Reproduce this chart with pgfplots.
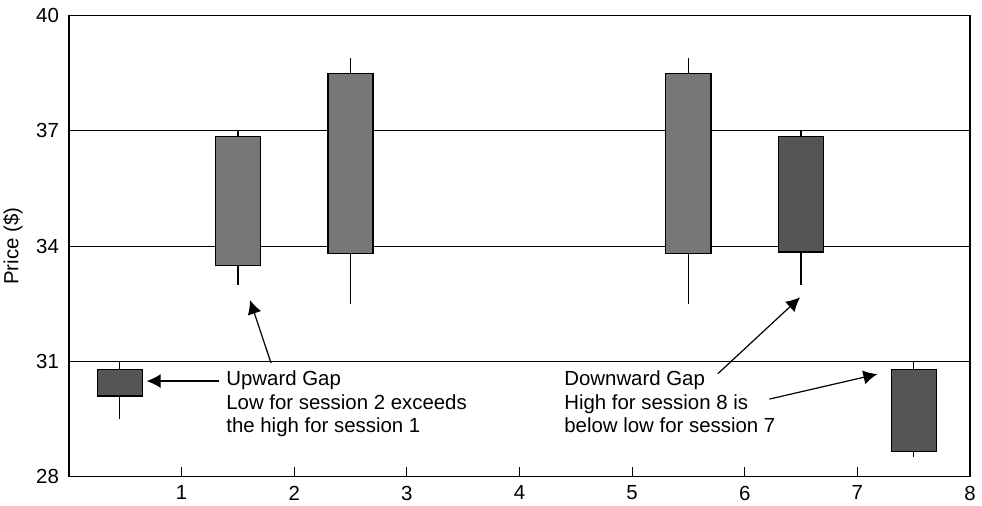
\documentclass[border=0pt]{standalone}
\usepackage{pgfplots}
\pgfplotsset{compat=1.18}
\usetikzlibrary{arrows.meta}
\usepackage{fontspec}
\setmainfont{Liberation Sans}
\definecolor{bull}{HTML}{777777}
\definecolor{bear}{HTML}{555555}
\begin{document}
\begin{tikzpicture}[font=\fontsize{10.2pt}{11.65pt}\selectfont]
\useasboundingbox (-34.5pt,-14.15pt) rectangle (456.5pt,238.35pt);
\begin{axis}[
  scale only axis, width=450.5pt, height=230.5pt,
  xmin=0, xmax=8, ymin=28, ymax=40,
  xtick={1,2,3,4,5,6,7,8},
  ytick={28,31,34,37,40},
  xtick pos=lower, tick align=inside,
  major tick length=5pt,
  ytick style={draw=none},
  xtick style={black, line width=0.6pt},
  ymajorgrids, grid style={black, line width=0.5pt},
  axis line style={line width=0.75pt},
  yticklabel style={xshift=-1.5pt},
  xticklabel style={yshift=-1pt},
  /pgf/number format/assume math mode=true,
  ylabel={Price (\$)},
  ylabel style={at={(axis description cs:0,0.5)}, yshift=28pt, anchor=center},
  clip=false,
  unbounded coords=jump,
]
% wicks (low to high) for sessions at x = 0.45, 1.5, 2.5, 5.5, 6.5, 7.5
\addplot[black, line width=0.7pt] coordinates {
  (0.45,29.5) (0.45,31.0) (0.45,nan)
  (1.5,33.0) (1.5,37.0) (1.5,nan)
  (2.5,32.5) (2.5,38.9) (2.5,nan)
  (5.5,32.5) (5.5,38.9) (5.5,nan)
  (6.5,33.0) (6.5,37.0) (6.5,nan)
  (7.5,28.5) (7.5,31.0)
};
% bodies (open/close)
\addplot[fill=bear, draw=black, line width=0.6pt] coordinates {(0.25,30.1) (0.65,30.1) (0.65,30.8) (0.25,30.8)} -- cycle;
\addplot[fill=bull, draw=black, line width=0.6pt] coordinates {(1.3,33.5) (1.7,33.5) (1.7,36.85) (1.3,36.85)} -- cycle;
\addplot[fill=bull, draw=black, line width=0.6pt] coordinates {(2.3,33.8) (2.7,33.8) (2.7,38.5) (2.3,38.5)} -- cycle;
\addplot[fill=bull, draw=black, line width=0.6pt] coordinates {(5.3,33.8) (5.7,33.8) (5.7,38.5) (5.3,38.5)} -- cycle;
\addplot[fill=bear, draw=black, line width=0.6pt] coordinates {(6.3,33.85) (6.7,33.85) (6.7,36.85) (6.3,36.85)} -- cycle;
\addplot[fill=bear, draw=black, line width=0.6pt] coordinates {(7.3,28.65) (7.7,28.65) (7.7,30.8) (7.3,30.8)} -- cycle;
\draw[line width=0.6pt, -{Latex[length=7pt,width=7pt]}] (axis cs:1.332,30.49) -- (axis cs:0.69,30.49);
\draw[line width=0.6pt, -{Latex[length=7pt,width=7pt]}] (axis cs:1.794,30.96) -- (axis cs:1.607,32.60);
\draw[line width=0.6pt, -{Latex[length=7pt,width=7pt]}] (axis cs:5.761,30.68) -- (axis cs:6.492,32.67);
\draw[line width=0.6pt, -{Latex[length=7pt,width=7pt]}] (axis cs:6.219,30.02) -- (axis cs:7.178,30.67);
\node[anchor=north west, align=left, inner sep=0pt] at (axis cs:1.394,30.76) {Upward Gap\\Low for session 2 exceeds\\the high for session 1};
\node[anchor=north west, align=left, inner sep=0pt] at (axis cs:4.395,30.76) {Downward Gap\\High for session 8 is\\below low for session 7};
\end{axis}
\end{tikzpicture}
\end{document}
